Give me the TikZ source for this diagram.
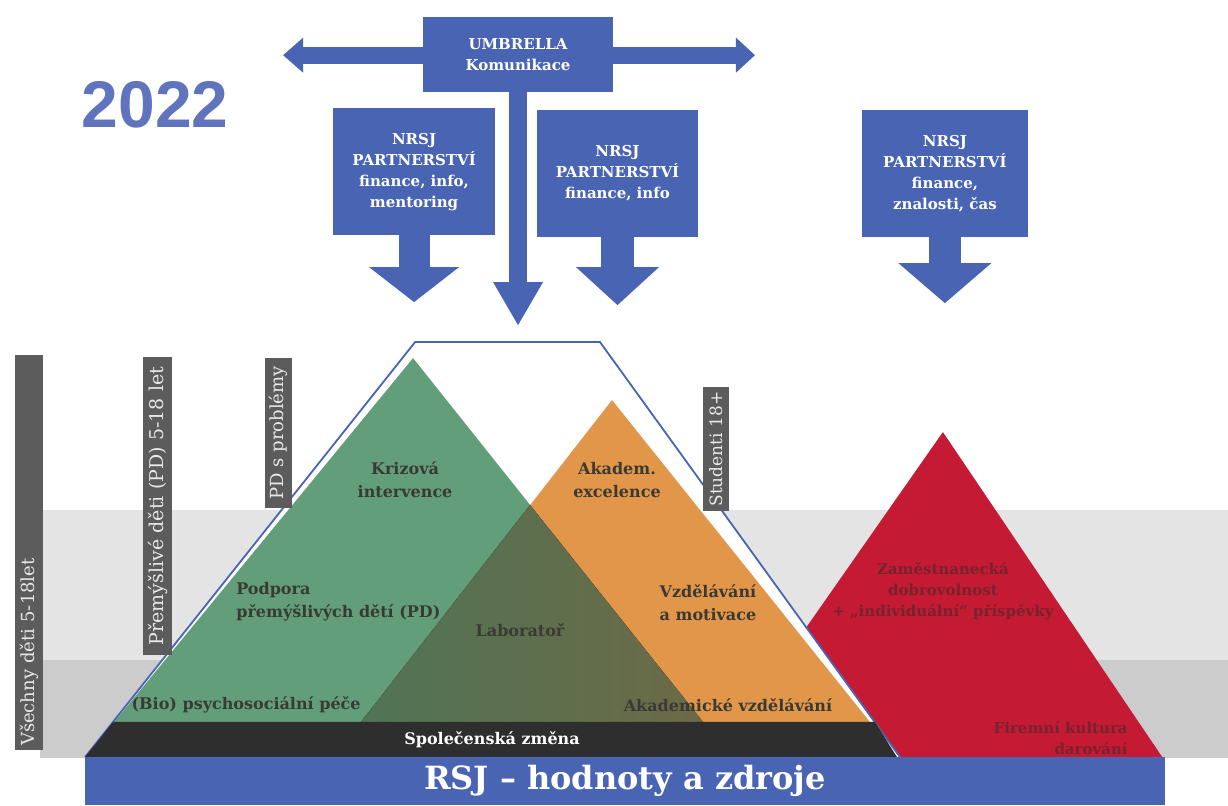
\documentclass[tikz,border=0pt]{standalone}
\usepackage{fontspec}
\setmainfont{DejaVu Serif}
\newfontfamily\barfont{DejaVu Serif}
\newfontfamily\yearfont{Liberation Sans}
\usepackage{xcolor}
\usetikzlibrary{arrows.meta}
\definecolor{rsjblue}{RGB}{74,100,180}
\definecolor{yearblue}{RGB}{96,116,190}
\definecolor{pdgreen}{RGB}{98,158,122}
\definecolor{akorange}{RGB}{226,150,74}
\definecolor{firmred}{RGB}{196,26,52}
\definecolor{labgreen}{RGB}{80,116,86}
\definecolor{labbrown}{RGB}{108,106,70}
\definecolor{bandlight}{RGB}{228,228,228}
\definecolor{banddark}{RGB}{204,204,204}
\definecolor{bargray}{RGB}{92,92,92}
\definecolor{bartext}{RGB}{232,232,232}
\definecolor{labeltext}{RGB}{58,58,52}
\definecolor{redtext}{RGB}{120,34,46}
\definecolor{basebar}{RGB}{46,46,46}
\tikzset{
  partnerbox/.style={fill=rsjblue, text=white, font=\bfseries\fontsize{15}{21}\selectfont, align=center, inner sep=0pt},
  vbar/.style={fill=bargray, text=bartext, font=\barfont\fontsize{18}{18}\selectfont, rotate=90, inner ysep=0pt, inner xsep=4pt},
  layerlabel/.style={text=labeltext, font=\bfseries\fontsize{16}{23}\selectfont, align=center, inner sep=0pt},
  firmlabel/.style={text=redtext, font=\bfseries\fontsize{15}{21}\selectfont, inner sep=0pt},
  blockarrow/.style={color=rsjblue, line width=#1}
}

\begin{document}
\begin{tikzpicture}[scale=1.000000,x=1pt,y=-1pt]
\filldraw[color=white] (0.000000, 0.000000) rectangle (1228.000000, 805.000000);
% Drawing bands
\fill[bandlight] (40.000000, 510.000000) rectangle (1228.000000, 660.000000);
\fill[banddark] (40.000000, 660.000000) rectangle (1228.000000, 758.000000);
% Drawing pyramids
% Pyramid 1: firm
\fill[firmred] (943.000000, 432.000000) -- (1163.000000, 758.000000) -- (715.000000, 758.000000) -- cycle;
% Frame: RSJ
\fill[white] (85.000000, 757.000000) -- (415.000000, 342.000000) -- (600.000000, 342.000000) -- (900.000000, 757.000000) -- cycle;
% Pyramid 2: PD
\fill[pdgreen] (413.000000, 358.000000) -- (703.000000, 722.000000) -- (114.000000, 722.000000) -- cycle;
% Pyramid 3: students
\fill[akorange] (612.000000, 400.000000) -- (870.000000, 722.000000) -- (361.000000, 722.000000) -- cycle;
% Overlap: lab
\fill[left color=labgreen, right color=labbrown] (530.000000, 505.000000) -- (703.000000, 722.000000) -- (361.000000, 722.000000) -- cycle;
\draw[color=rsjblue, line width=1.8pt] (85.000000, 757.000000) -- (415.000000, 342.000000) -- (600.000000, 342.000000) -- (900.000000, 757.000000);
% Base bars
\fill[basebar] (113.000000, 722.000000) -- (875.000000, 722.000000) -- (897.000000, 757.000000) -- (85.000000, 757.000000) -- cycle;
\node[text=white, font=\bfseries\fontsize{16}{16}\selectfont] (change) at (492.000000, 740.000000) {Společenská změna};
\node[fill=rsjblue, text=white, font=\bfseries\fontsize{32}{32}\selectfont, minimum width=1080pt, minimum height=48pt, inner sep=0pt] (rsjbase) at (625.000000, 781.000000) {RSJ – hodnoty a zdroje};
% Done with pyramids; drawing labels
\node[layerlabel] (crisis) at (405.000000, 480.000000) {Krizová\\intervence};
\node[layerlabel] (excel) at (617.000000, 480.000000) {Akadem.\\excelence};
\node[layerlabel, anchor=west, align=left] (support) at (236.000000, 602.000000) {Podpora\\přemýšlivých dětí (PD)};
\node[layerlabel] (lab) at (520.000000, 630.000000) {Laboratoř};
\node[layerlabel] (motiv) at (708.000000, 603.000000) {Vzdělávání\\a motivace};
\node[layerlabel] (care) at (246.000000, 705.000000) {(Bio) psychosociální péče};
\node[layerlabel] (study) at (728.000000, 705.000000) {Akademické vzdělávání};
\node[firmlabel, align=center] (volunteer) at (943.000000, 591.000000) {Zaměstnanecká\\dobrovolnost\\+ „individuální“ příspěvky};
\node[firmlabel, align=right, anchor=east] (culture) at (1128.000000, 738.000000) {Firemní kultura\\darování};
% Drawing target groups
\node[vbar, minimum height=28pt, text width=387pt, align=left] (allkids) at (29.000000, 552.500000) {Všechny děti 5-18let};
\node[vbar, minimum height=29pt, text width=290pt, align=center, font=\barfont\fontsize{19}{19}\selectfont] (pdkids) at (157.500000, 506.000000) {Přemýšlivé děti (PD) 5-18 let};
\node[vbar, minimum height=27pt, text width=142pt, align=center] (pdprob) at (278.500000, 433.000000) {PD s problémy};
\node[vbar, minimum height=26pt, text width=120pt, inner xsep=2pt, align=center, font=\barfont\fontsize{17}{17}\selectfont] (students) at (716.000000, 449.000000) {Studenti 18+};
% Drawing partners
\coordinate (umbL) at (283.000000, 55.000000);
\coordinate (umbR) at (755.000000, 55.000000);
\draw[blockarrow=17pt, {Triangle[width=35pt,length=20pt,line width=0pt]}-{Triangle[width=35pt,length=19pt,line width=0pt]}] (umbL) -- (umbR);
\node[partnerbox, minimum width=190pt, minimum height=75pt] (umbrella) at (518.000000, 54.500000) {UMBRELLA\\Komunikace};
\coordinate (tipU) at (518.000000, 325.000000);
\draw[blockarrow=18pt, -{Triangle[width=50pt,length=43pt,line width=0pt]}] (umbrella.south) -- (tipU);
% Partner 1
\node[partnerbox, minimum width=162pt, minimum height=127pt] (nrsjA) at (414.000000, 171.500000) {NRSJ\\PARTNERSTVÍ\\finance, info,\\mentoring};
\coordinate (tipA) at (414.000000, 302.000000);
\draw[blockarrow=31pt, -{Triangle[width=90pt,length=35pt,line width=0pt]}] (nrsjA.south) -- (tipA);
% Partner 2
\node[partnerbox, minimum width=161pt, minimum height=127pt] (nrsjB) at (617.500000, 173.500000) {NRSJ\\PARTNERSTVÍ\\finance, info};
\coordinate (tipB) at (617.500000, 305.000000);
\draw[blockarrow=33pt, -{Triangle[width=83pt,length=38pt,line width=0pt]}] (nrsjB.south) -- (tipB);
% Partner 3
\node[partnerbox, minimum width=166pt, minimum height=127pt] (nrsjC) at (945.000000, 173.500000) {NRSJ\\PARTNERSTVÍ\\finance,\\znalosti, čas};
\coordinate (tipC) at (945.000000, 303.000000);
\draw[blockarrow=32pt, -{Triangle[width=93pt,length=40pt,line width=0pt]}] (nrsjC.south) -- (tipC);
% Done with partners
\node[text=yearblue, font=\yearfont\bfseries\fontsize{66}{66}\selectfont, inner sep=0pt] (year) at (155.000000, 105.000000) {2022};
\end{tikzpicture}
\end{document}
